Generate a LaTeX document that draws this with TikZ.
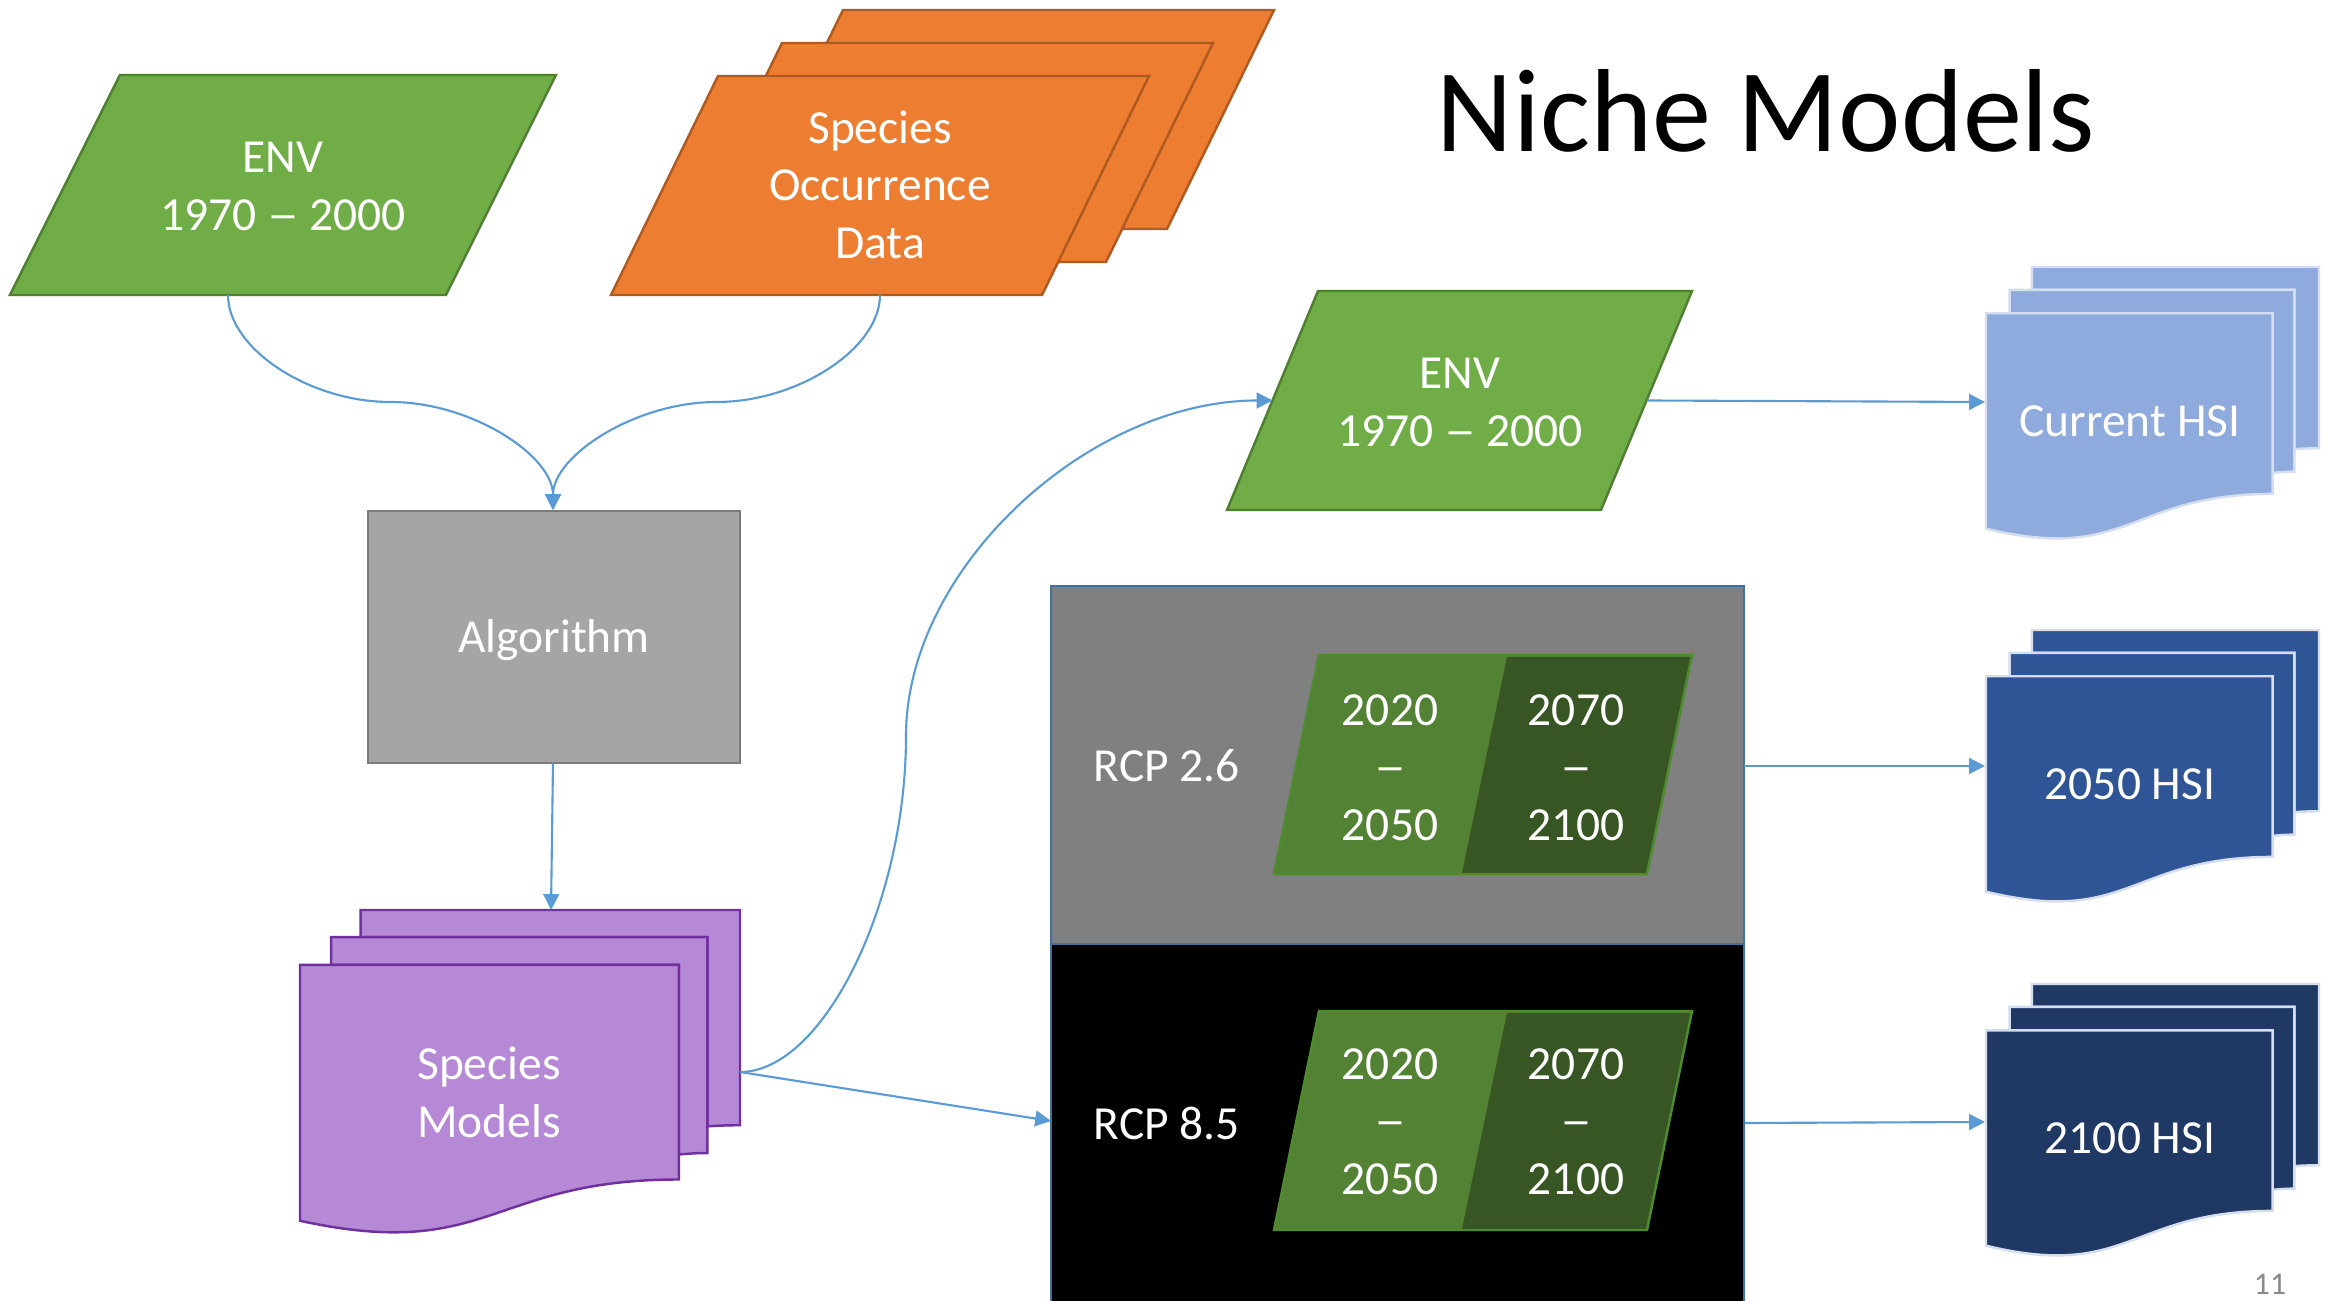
\documentclass[tikz,border=0pt]{standalone}
\usepackage{fontspec}
\usepackage{graphicx}
\setmainfont{Carlito}
\usetikzlibrary{arrows.meta}
\definecolor{envgreen}{HTML}{70AD47}
\definecolor{envline}{HTML}{507E32}
\definecolor{orng}{HTML}{ED7D31}
\definecolor{orngline}{HTML}{AE5A21}
\definecolor{algfill}{HTML}{A5A5A5}
\definecolor{algline}{HTML}{7C7C7C}
\definecolor{purp}{HTML}{B589D6}
\definecolor{purpline}{HTML}{7030A0}
\definecolor{hsiA}{HTML}{8FAADC}
\definecolor{hsiB}{HTML}{2F5597}
\definecolor{hsiC}{HTML}{203864}
\definecolor{hsiline}{HTML}{D5DEEF}
\definecolor{rcpgray}{HTML}{808080}
\definecolor{rcpline}{HTML}{41719C}
\definecolor{ggreen}{HTML}{548235}
\definecolor{dgreen}{HTML}{375623}
\definecolor{gline}{HTML}{4E8A2E}
\definecolor{conncol}{HTML}{5B9BD5}
\definecolor{pagenum}{HTML}{898989}
\newcommand\mydash{\scalebox{1.35}[1]{–}}
% parallelogram: x y w h slant style
\newcommand\mypara[6]{%
  \path[#6] ({#1},{#2}) -- ({#1+#3},{#2}) -- ({#1+#3-#5},{#2+#4}) -- ({#1-#5},{#2+#4}) -- cycle;}
% multidocument: x y w h style
\newcommand\mymultidoc[5]{%
  \path[#5] ({#1+0.13759*#3},{#2+0.08403*#4}) -- ({#1+0.13759*#3},{#2}) -- ({#1+#3},{#2}) -- ({#1+#3},{#2+0.66630*#4}) .. controls ({#1+0.96296*#3},{#2+0.66630*#4}) and ({#1+0.92593*#3},{#2+0.66977*#4}) .. ({#1+0.92593*#3},{#2+0.66977*#4}) -- ({#1+0.92593*#3},{#2+0.08403*#4}) -- cycle;
  \path[#5] ({#1+0.07093*#3},{#2+0.17014*#4}) -- ({#1+0.07093*#3},{#2+0.08403*#4}) -- ({#1+0.92593*#3},{#2+0.08403*#4}) -- ({#1+0.92593*#3},{#2+0.75241*#4}) .. controls ({#1+0.89343*#3},{#2+0.75241*#4}) and ({#1+0.86088*#3},{#2+0.75704*#4}) .. ({#1+0.86088*#3},{#2+0.75704*#4}) -- ({#1+0.86088*#3},{#2+0.17014*#4}) -- cycle;
  \path[#5] ({#1},{#2+0.17014*#4}) -- ({#1+0.86088*#3},{#2+0.17014*#4}) -- ({#1+0.86088*#3},{#2+0.83435*#4}) .. controls ({#1+0.43046*#3},{#2+0.83435*#4}) and ({#1+0.43046*#3},{#2+1.08991*#4}) .. ({#1},{#2+0.96213*#4}) -- cycle;}
\begin{document}
\begin{tikzpicture}[x=0.01cm,y=-0.01cm,
  connector/.style={draw=conncol, line width=0.6pt, -{Triangle[length=4.5pt,width=4.5pt]}},
  lbl/.style={text=white, font=\fontsize{13.5pt}{16.3pt}\selectfont, align=center, inner sep=0pt, text depth=0pt, anchor=south},
  lbl1/.style={text=white, font=\fontsize{13.5pt}{16.3pt}\selectfont, inner sep=0pt, anchor=base},
  envstyle/.style={fill=envgreen, draw=envline, line width=0.7pt},
  orstyle/.style={fill=orng, draw=orngline, line width=0.7pt},
  docstyle/.style={line width=0.7pt, line join=miter}]
\useasboundingbox (0,0) rectangle (2329,1301);
\clip (0,0) rectangle (2329,1301);
\fill[white] (0,0) rectangle (2329,1301);

% title
\node[font=\fontsize{33.6pt}{40pt}\selectfont, inner sep=0pt, anchor=base] (title) at (1766,152) {Niche Models};

% ENV 1970-2000 (top left)
\mypara{120}{75}{436}{220}{110}{envstyle}
\node[lbl] (env1) at (283,231) {ENV\\1970 \mydash{} 2000};

% Species occurrence data (stack)
\mypara{843}{10}{431}{219}{107}{orstyle}
\mypara{782}{43}{431}{219}{107}{orstyle}
\mypara{718}{76}{431}{219}{107}{orstyle}
\node[lbl] (occ) at (880,259) {Species\\Occurrence\\Data};

% Algorithm
\path[fill=algfill, draw=algline, line width=0.7pt] (368,511) rectangle (740,763);
\node[lbl1] (alg) at (554,653) {Algorithm};

% Species Models
\mymultidoc{300}{910}{440}{323}{docstyle, fill=purp, draw=purpline}
\node[lbl] (sm) at (489,1138) {Species\\Models};

% ENV 1970-2000 (second)
\mypara{1318}{291}{374}{219}{91}{envstyle}
\node[lbl] (env2) at (1460,447) {ENV\\1970 \mydash{} 2000};

% RCP boxes
\path[fill=rcpgray, draw=rcpline, line width=0.6pt] (1051,586) rectangle (1744,944);
\path[fill=black, draw=rcpline, line width=0.6pt] (1051,944) rectangle (1744,1330);
\node[lbl1, anchor=base west] (rcp26) at (1093,782) {RCP 2.6};
\node[lbl1, anchor=base west] (rcp85) at (1093,1140) {RCP 8.5};

% inner periods RCP 2.6
\mypara{1319}{655}{373}{219}{45}{fill=ggreen}
\mypara{1507}{657}{184}{216}{45}{fill=dgreen}
\mypara{1319}{655}{373}{219}{45}{draw=gline, line width=0.7pt}
\node[lbl] (p1) at (1390,841) {2020\\\mydash\\2050};
\node[lbl] (p2) at (1576,841) {2070\\\mydash\\2100};

% inner periods RCP 8.5
\mypara{1319}{1011}{373}{219}{45}{fill=ggreen}
\mypara{1507}{1013}{184}{216}{45}{fill=dgreen}
\mypara{1319}{1011}{373}{219}{45}{draw=gline, line width=0.7pt}
\node[lbl] (p3) at (1390,1195) {2020\\\mydash\\2050};
\node[lbl] (p4) at (1576,1195) {2070\\\mydash\\2100};

% HSI outputs
\mymultidoc{1986}{267}{333}{272}{docstyle, fill=hsiA, draw=hsiline}
\node[lbl1] (cur) at (2130,437) {Current HSI};
\mymultidoc{1986}{630}{333}{272}{docstyle, fill=hsiB, draw=hsiline}
\node[lbl1] (h50) at (2130,800) {2050 HSI};
\mymultidoc{1986}{984}{333}{272}{docstyle, fill=hsiC, draw=hsiline}
\node[lbl1] (h100) at (2130,1154) {2100 HSI};

% page number
\node[font=\fontsize{9pt}{11pt}\selectfont, text=pagenum, inner sep=0pt, anchor=base] (pg) at (2270,1295) {11};

% connection points
\coordinate (e1b) at (228,295);
\coordinate (ocb) at (880,295);
\coordinate (algt) at (553,510);
\coordinate (algb) at (553,763);
\coordinate (smt) at (551,910);
\coordinate (smr) at (740,1072);
\coordinate (e2l) at (1272.5,400.5);
\coordinate (e2r) at (1647,400.5);
\coordinate (curl) at (1985,402);
\coordinate (rcpA) at (1744,766);
\coordinate (h50l) at (1985,766);
\coordinate (rcpB) at (1745,1123);
\coordinate (h100l) at (1985,1122);
\coordinate (rcpBl) at (1051,1121);

% connectors
\draw[connector] (e1b) .. controls (228,348.5) and (309,402) .. (390.5,402) .. controls (472,402) and (553,456) .. (algt);
\draw[connector] (ocb) .. controls (880,348.5) and (798,402) .. (716.5,402) .. controls (635,402) and (553,456) .. (algt);
\draw[connector] (algb) -- (smt);
\draw[connector] (smr) -- (rcpBl);
\draw[connector] (smr) .. controls (823,1072) and (906,904) .. (906,736) .. controls (906,568) and (1089,400.5) .. (e2l);
\draw[connector] (e2r) -- (curl);
\draw[connector] (rcpA) -- (h50l);
\draw[connector] (rcpB) -- (h100l);
\end{tikzpicture}
\end{document}
